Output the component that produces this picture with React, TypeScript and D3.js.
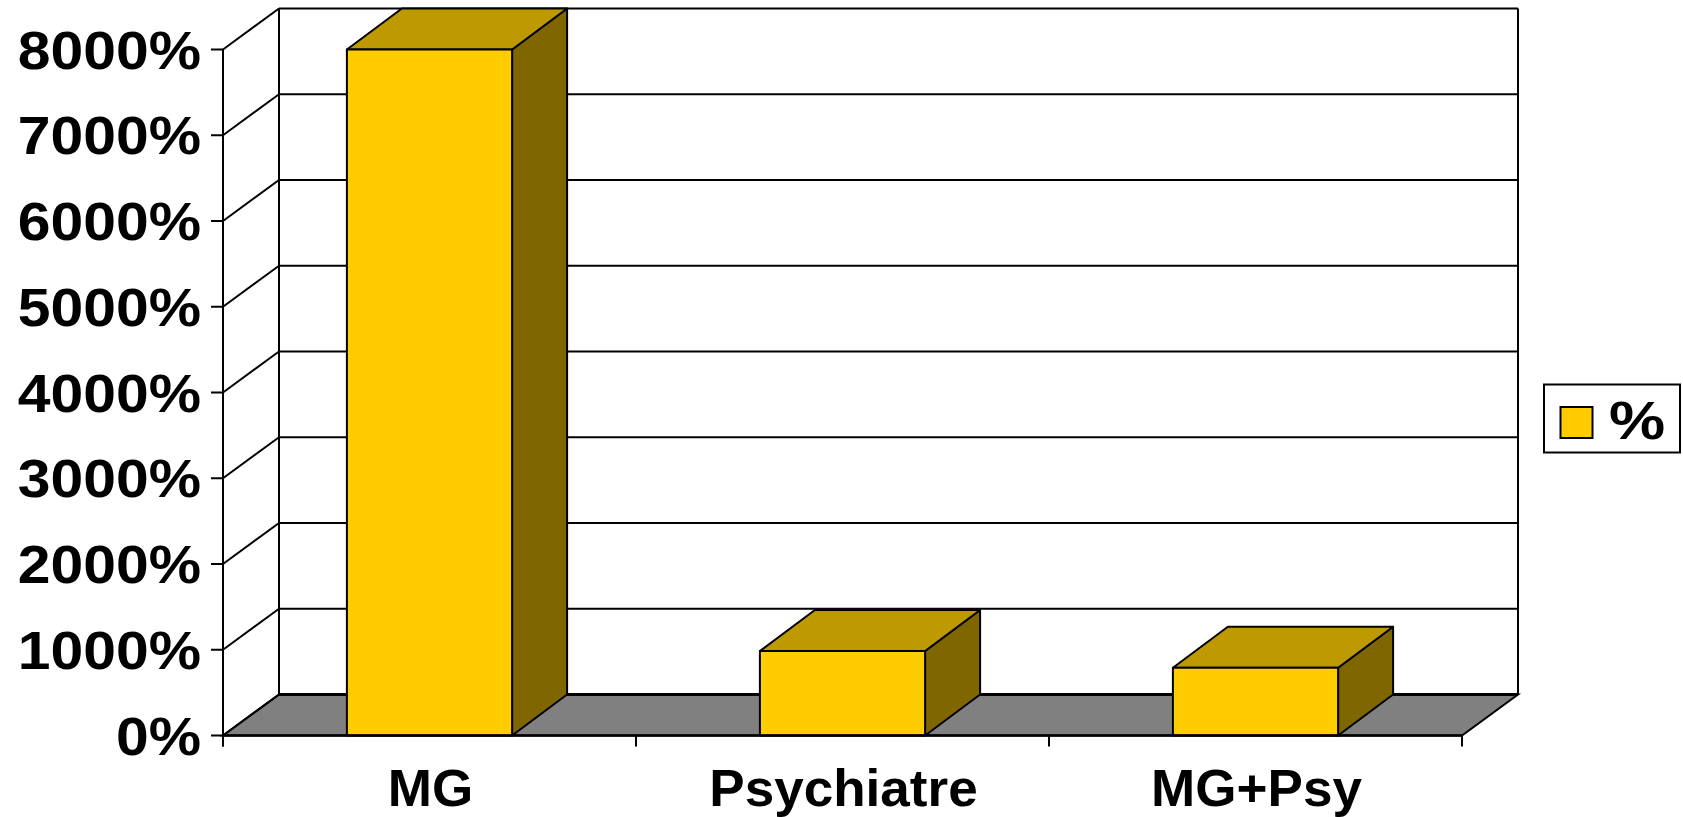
import { range, scaleBand, scaleLinear } from "d3";

const categories = ["MG", "Psychiatre", "MG+Psy"];
const values = [8000, 985, 790];
const yTicks = [0, 1000, 2000, 3000, 4000, 5000, 6000, 7000, 8000];
const seriesName = "%";

const width = 1683;
const height = 817;

const App = () => {
  const x0 = 223;
  const x1 = 1462;
  const y0 = 735.5;
  const yTop = 49.5;
  const wallDx = 56;
  const wallDy = 41;
  const barDx = 55;
  const barDy = 41;

  const xScale = scaleBand<string>()
    .domain(categories)
    .range([x0, x1])
    .paddingInner(0.6)
    .paddingOuter(0.3);
  const yScale = scaleLinear().domain([0, 8000]).range([y0, yTop]);
  const step = xScale.step();

  const font = "'Liberation Sans', Arial, sans-serif";

  return (
    <svg
      width={width}
      height={height}
      style={{ position: "absolute", left: 0, top: 0, background: "#fff" }}
      fontFamily={font}
    >
      {/* floor */}
      <polygon
        points={`${x0},${y0} ${x0 + wallDx},${y0 - wallDy} ${x1 + wallDx},${y0 - wallDy} ${x1},${y0}`}
        fill="#808080"
        stroke="#000"
        strokeWidth={2}
      />
      <line x1={x0 + wallDx} x2={x1 + wallDx} y1={y0 - wallDy} y2={y0 - wallDy} stroke="#000" strokeWidth={3} />

      {/* walls and grid */}
      {yTicks.map((t) => (
        <g key={t}>
          {t > 0 && (
            <line
              x1={x0 + wallDx}
              x2={x1 + wallDx}
              y1={yScale(t) - wallDy}
              y2={yScale(t) - wallDy}
              stroke="#000"
              strokeWidth={2}
            />
          )}
          <line
            x1={x0}
            x2={x0 + wallDx}
            y1={yScale(t)}
            y2={yScale(t) - wallDy}
            stroke="#000"
            strokeWidth={2}
          />
          <line x1={x0 - 12} x2={x0} y1={yScale(t)} y2={yScale(t)} stroke="#000" strokeWidth={2} />
          <text
            x={0}
            y={0}
            textAnchor="end"
            fontSize={54}
            fontWeight="bold"
            transform={`translate(201, ${yScale(t) + 19}) scale(1.09, 1)`}
          >
            {t}%
          </text>
        </g>
      ))}
      <line
        x1={x0 + wallDx}
        x2={x0 + wallDx}
        y1={yScale(8000) - wallDy}
        y2={y0 - wallDy}
        stroke="#000"
        strokeWidth={2}
      />
      <line
        x1={x1 + wallDx}
        x2={x1 + wallDx}
        y1={yScale(8000) - wallDy}
        y2={y0 - wallDy}
        stroke="#000"
        strokeWidth={2}
      />
      <line x1={x0} x2={x0} y1={yTop} y2={y0 + 11} stroke="#000" strokeWidth={2} />

      {/* bars */}
      {categories.map((c, i) => {
        const bx = xScale(c) as number;
        const bw = xScale.bandwidth();
        const by = yScale(values[i]);
        return (
          <g key={c} stroke="#000" strokeWidth={2} strokeLinejoin="round">
            <polygon
              points={`${bx + bw},${by} ${bx + bw + barDx},${by - barDy} ${bx + bw + barDx},${y0 - barDy} ${bx + bw},${y0}`}
              fill="#806600"
            />
            <polygon
              points={`${bx},${by} ${bx + barDx},${by - barDy} ${bx + bw + barDx},${by - barDy} ${bx + bw},${by}`}
              fill="#BF9900"
            />
            <rect x={bx} y={by} width={bw} height={y0 - by} fill="#FFCC00" />
          </g>
        );
      })}

      {/* front floor edge and category ticks */}
      <line x1={x0} x2={x1} y1={y0} y2={y0} stroke="#000" strokeWidth={2.6} />
      {range(categories.length + 1).map((i) => (
        <line
          key={i}
          x1={x0 + i * step}
          x2={x0 + i * step}
          y1={y0}
          y2={y0 + 11}
          stroke="#000"
          strokeWidth={2}
        />
      ))}
      {categories.map((c) => (
        <text
          key={c}
          x={0}
          y={0}
          textAnchor="middle"
          fontSize={52}
          fontWeight="bold"
          transform={`translate(${(xScale(c) as number) + xScale.bandwidth() / 2 + 1}, 805.5) scale(1.02, 1)`}
        >
          {c}
        </text>
      ))}

      {/* legend */}
      <rect x={1544} y={384.5} width={136} height={68} fill="#fff" stroke="#000" strokeWidth={2} />
      <rect x={1560.5} y={407} width={32} height={31} fill="#FFCC00" stroke="#000" strokeWidth={2} />
      <text x={0} y={0} fontSize={54} fontWeight="bold" transform="translate(1609, 439) scale(1.17, 1)">
        {seriesName}
      </text>
    </svg>
  );
};

export default App;
